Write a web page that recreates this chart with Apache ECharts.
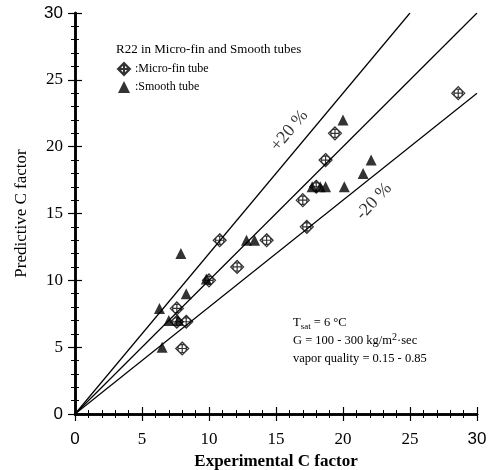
<!DOCTYPE html>
<html>
<head>
<meta charset="utf-8">
<title>C factor</title>
<script src="https://cdn.jsdelivr.net/npm/echarts@6/dist/echarts.min.js"></script>
<style>
  html, body { margin: 0; padding: 0; background: #fff; }
  #main { width: 490px; height: 470px; }
</style>
</head>
<body>
<div id="main"></div>
<script>
// data (experimental, predictive)
var microFin = [
  [10.8, 13], [12.1, 11], [10.0, 10], [7.6, 7.9], [7.6, 6.9], [8.3, 6.9],
  [8.0, 4.9], [14.3, 13], [17.0, 16], [17.3, 14], [18.0, 17], [18.7, 19],
  [19.4, 21], [28.6, 24]
];
var smooth = [
  [7.9, 12], [6.3, 7.9], [7.0, 7.0], [7.7, 7.0], [8.3, 9], [6.5, 5],
  [9.8, 10.1], [12.8, 13], [13.4, 13], [17.7, 17], [18.3, 17], [18.7, 17],
  [20.1, 17], [20.0, 22], [21.5, 18], [22.1, 19]
];
// reference lines: exact, +20 %, -20 %
var lineExact = [[0, 0], [30, 30]];
var linePlus = [[0, 0], [25, 30]];
var lineMinus = [[0, 0], [30, 24]];
var axisTicks = [0, 5, 10, 15, 20, 25, 30];

var serif = '"Liberation Serif", "DejaVu Serif", serif';
var sans = '"Liberation Sans", Arial, sans-serif';
var finIcon = 'path://M0,-10L10,0L0,10L-10,0Z M6.5,0A6.5,6.5,0,1,1,-6.5,0A6.5,6.5,0,1,1,6.5,0Z M-6.5,0L6.5,0 M0,-6.5L0,6.5';

function tickLabel(v) {
  if (axisTicks.indexOf(v) < 0) return '';
  if (v === 0 || v === 30) return '{s|' + v + '}';
  return '{n|' + v + '}';
}
var richLbl = {
  n: { fontFamily: serif, fontSize: 17, color: '#000' },
  s: { fontFamily: sans, fontSize: 17, color: '#000' }
};

function mkAxis(pos, withLabel) {
  return {
    type: 'value',
    position: pos,
    min: 0,
    max: 30,
    interval: 5,
    splitLine: { show: false },
    axisLine: { show: true, lineStyle: { color: '#000', width: 2.5 } },
    axisTick: { show: true, inside: true, length: 7, lineStyle: { color: '#000', width: 1.2 } },
    minorTick: { show: true, splitNumber: 5, length: 4, lineStyle: { color: '#000', width: 1 } },
    axisLabel: withLabel ? { show: true, formatter: tickLabel, rich: richLbl, margin: 12 } : { show: false }
  };
}

var xBottom = mkAxis('bottom', true);
xBottom.name = 'Experimental C factor';
xBottom.nameLocation = 'middle';
xBottom.nameGap = 39;
xBottom.nameTextStyle = { fontFamily: serif, fontSize: 17, fontWeight: 'bold', color: '#000' };
xBottom.axisLabel.margin = 17;

var yLeft = mkAxis('left', true);
yLeft.name = 'Predictive C factor';
yLeft.nameLocation = 'middle';
yLeft.nameGap = 45;
yLeft.nameTextStyle = { fontFamily: serif, fontSize: 17, color: '#000' };

var myChart = echarts.init(document.getElementById('main'));

function refLine(d) {
  return {
    type: 'line', data: d, symbol: 'none', silent: true, xAxisIndex: 0, yAxisIndex: 0,
    lineStyle: { color: '#000', width: 1.2 }, z: 1
  };
}

function textMark(pos, txt, rot) {
  return {
    type: 'scatter', data: [pos], symbolSize: 0, silent: true,
    label: { show: true, position: 'inside', formatter: txt, rotate: rot,
      fontFamily: serif, fontSize: 18, color: '#000' }
  };
}

var option = {
  animation: false,
  backgroundColor: '#fff',
  grid: { left: 75, right: 13, top: 13, bottom: 56, outerBoundsMode: 'none' },
  title: {
    text: 'R22 in Micro-fin and Smooth tubes',
    left: 111, top: 38,
    textStyle: { fontFamily: serif, fontSize: 13, fontWeight: 'normal', color: '#000' }
  },
  legend: {
    orient: 'vertical', left: 112, top: 57, itemGap: 5,
    itemWidth: 12, itemHeight: 12,
    data: ['Micro-fin tube', 'Smooth tube'],
    formatter: function (name) { return ':' + name; },
    textStyle: { fontFamily: serif, fontSize: 12, color: '#000' }
  },
  graphic: [{
    type: 'text', left: 293, top: 315,
    style: {
      text: '{n|T}{sub|sat}{n| = 6 °C}\n{n|G = 100 - 300 kg/m}{sup|2}{n|·sec}\n{n|vapor quality = 0.15 - 0.85}',
      rich: {
        n: { fontFamily: serif, fontSize: 12.5, color: '#000', lineHeight: 18 },
        sub: { fontFamily: serif, fontSize: 9, color: '#000', lineHeight: 18, padding: [7, 0, 0, 0] },
        sup: { fontFamily: serif, fontSize: 10, color: '#000', lineHeight: 18, padding: [0, 0, 8, 0] }
      }
    }
  }],
  xAxis: [xBottom, mkAxis('top', false)],
  yAxis: [yLeft, mkAxis('right', false)],
  series: [
    refLine(lineExact),
    refLine(linePlus),
    refLine(lineMinus),
    {
      name: 'Micro-fin tube', type: 'scatter', data: microFin,
      symbol: finIcon, symbolSize: 13,
      itemStyle: { color: 'rgba(0,0,0,0)', borderColor: '#000', borderWidth: 1.2 }, z: 3
    },
    {
      name: 'Smooth tube', type: 'scatter', data: smooth,
      symbol: 'triangle', symbolSize: 11,
      itemStyle: { color: '#000' }, z: 3
    },
    textMark([16.0, 21.2], '+20 %', 50),
    textMark([22.3, 15.9], '-20 %', 47)
  ]
};
myChart.setOption(option);
</script>
</body>
</html>
